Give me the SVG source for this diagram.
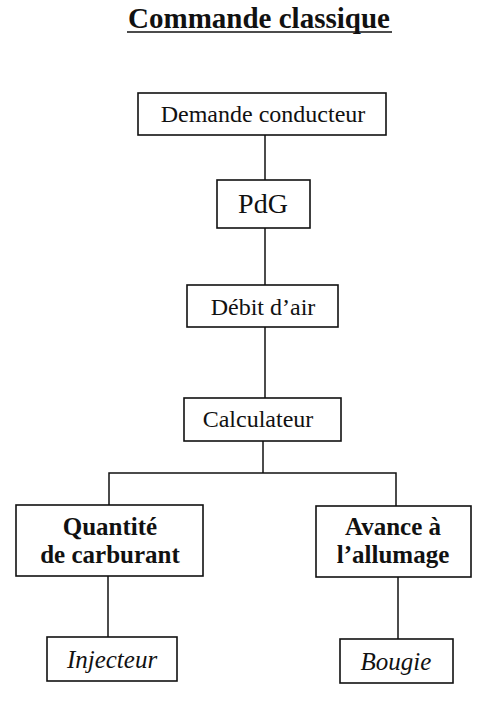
<svg xmlns="http://www.w3.org/2000/svg" width="501" height="710" viewBox="0 0 501 710">
<style>
  .box { fill: #fff; stroke: #111; stroke-width: 1.6; }
  .t { font-family: "Liberation Serif", "Times New Roman", serif; fill: #111; text-anchor: middle; font-size: 24px; }
  .b { font-weight: bold; font-size: 25px; }
  .i { font-style: italic; font-size: 25px; }
  .c { stroke: #111; stroke-width: 1.5; fill: none; }
</style>
<rect width="501" height="710" fill="#fff"/>
<g id="title">
  <text class="t" x="259" y="28" style="font-size:29px;font-weight:bold">Commande classique</text>
  <line x1="127" y1="32" x2="392" y2="32" stroke="#111" stroke-width="1.6"/>
</g>
<g id="connectors">
  <line class="c" x1="265" y1="135" x2="265" y2="180"/>
  <line class="c" x1="265" y1="228" x2="265" y2="285"/>
  <line class="c" x1="265" y1="327" x2="265" y2="398"/>
  <polyline class="c" points="263,441 263,473"/>
  <polyline class="c" points="109,505 109,473 396,473 396,506"/>
  <line class="c" x1="108" y1="576" x2="108" y2="637"/>
  <line class="c" x1="398" y1="577" x2="398" y2="639"/>
</g>
<g id="demande">
  <rect class="box" x="138" y="93" width="248" height="42"/>
  <text class="t" x="263" y="122">Demande conducteur</text>
</g>
<g id="pdg">
  <rect class="box" x="217" y="180" width="93" height="48"/>
  <text class="t" x="263" y="213" style="font-size:28px">PdG</text>
</g>
<g id="debit">
  <rect class="box" x="187" y="285" width="151" height="42"/>
  <text class="t" x="263" y="315">Débit d’air</text>
</g>
<g id="calculateur">
  <rect class="box" x="184" y="398" width="157" height="43"/>
  <text class="t" x="258" y="427">Calculateur</text>
</g>
<g id="quantite">
  <rect class="box" x="16" y="505" width="187" height="71"/>
  <text class="t b" x="110" y="535">Quantité</text>
  <text class="t b" x="110" y="563">de carburant</text>
</g>
<g id="avance">
  <rect class="box" x="316" y="506" width="155" height="71"/>
  <text class="t b" x="393" y="535">Avance à</text>
  <text class="t b" x="393" y="563">l’allumage</text>
</g>
<g id="injecteur">
  <rect class="box" x="47" y="637" width="130" height="44"/>
  <text class="t i" x="112" y="668">Injecteur</text>
</g>
<g id="bougie">
  <rect class="box" x="340" y="639" width="113" height="44"/>
  <text class="t i" x="396" y="670">Bougie</text>
</g>
</svg>
